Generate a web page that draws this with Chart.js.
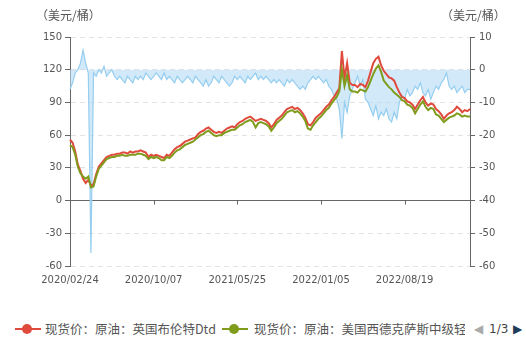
<!DOCTYPE html>
<html>
<head>
<meta charset="utf-8">
<script src="https://cdn.jsdelivr.net/npm/chart.js@4/dist/chart.umd.min.js"></script>
<style>
  body { margin: 0; background: #fff; }
  #wrap { position: relative; width: 526px; height: 341px; font-family: "Noto Sans CJK SC", "Noto Sans", sans-serif; color: #555; }
  .unit { position: absolute; top: 6px; font-size: 12px; line-height: 18px; }
  .legend { position: absolute; top: 320px; left: 0; width: 526px; height: 18px; font-size: 12.5px; line-height: 18px; }
  .legend svg, .legend span { position: absolute; top: 0; }
  .pager { font-family: "DejaVu Sans", sans-serif; }
</style>
</head>
<body>
<div id="wrap">
  <canvas id="oilChart" width="526" height="300"></canvas>
  <div class="unit" style="left:36px">（美元/桶）</div>
  <div class="unit" style="left:441px">（美元/桶）</div>
  <div class="legend">
    <svg style="left:14px" width="28" height="18"><line x1="1" y1="9" x2="27" y2="9" stroke="#e04a3c" stroke-width="2"/><circle cx="13" cy="9" r="5" fill="#e04a3c"/></svg>
    <span style="left:45px;white-space:nowrap">现货价：原油：英国布伦特Dtd</span>
    <svg style="left:221px" width="28" height="18"><line x1="1" y1="9" x2="27" y2="9" stroke="#7f9c1c" stroke-width="2"/><circle cx="13" cy="9" r="5" fill="#7f9c1c"/></svg>
    <span style="left:254px;width:211px;overflow:hidden;white-space:nowrap">现货价：原油：美国西德克萨斯中级轻质原油</span>
    <span class="pager" style="left:474px;color:#aaa;font-size:12px">◀</span>
    <span class="pager" style="left:489px;color:#444;font-size:12px">1/3</span>
    <span class="pager" style="left:513px;color:#1f3b5a;font-size:12px">▶</span>
  </div>
</div>
<script>
// axis tick labels, one every 32 samples
const tickLabels = ['2020/02/24', '2020/10/07', '2021/05/25', '2022/01/05', '2022/08/19'];
const tickStep = 32;

// 现货价：原油：英国布伦特Dtd (美元/桶)
const brent = [
  56, 53, 45, 33, 27, 20, 16, 19, 14, 15,
  24, 31, 34, 37, 40, 41, 42, 42, 43, 43,
  44, 44, 43, 45, 44, 45, 45, 46, 45, 44,
  40, 42, 41, 42, 41, 40, 39, 42, 41, 44,
  47, 49, 50, 52, 54, 55, 56, 57, 58, 61,
  63, 64, 66, 67, 65, 63, 62, 63, 62, 64,
  66, 67, 68, 67, 70, 72, 73, 75, 76, 77,
  75, 73, 74, 75, 74, 73, 71, 67, 70, 74,
  76, 78, 81, 84, 85, 86, 84, 85, 83, 80,
  76, 70, 69, 72, 76, 78, 80, 83, 86, 88,
  92, 95, 99, 103, 137, 112, 126, 108, 106, 106,
  104, 107, 106, 104, 110, 118, 126, 130, 132, 124,
  119, 116, 113, 112, 110, 104, 99, 95, 94, 91,
  90, 88, 84, 88, 92, 95, 90, 87, 89, 88,
  84, 82, 79, 75, 78, 80, 81, 83, 86, 84,
  81, 83, 82, 84
];

// 现货价：原油：美国西德克萨斯中级轻质原油 (美元/桶)
const wti = [
  51, 49, 42, 31, 25, 22, 20, 22, 12, 13,
  22, 29, 32, 35, 38, 39, 40, 40, 41, 41,
  42, 41, 41, 42, 42, 42, 43, 43, 42, 41,
  38, 40, 39, 40, 39, 37, 37, 40, 39, 41,
  44, 46, 47, 49, 51, 52, 53, 54, 56, 58,
  60, 61, 63, 64, 62, 60, 59, 60, 60, 62,
  63, 64, 65, 65, 67, 69, 70, 72, 73, 74,
  72, 67, 71, 72, 71, 70, 68, 64, 67, 71,
  73, 75, 78, 81, 82, 83, 81, 82, 80, 77,
  73, 66, 65, 69, 72, 75, 77, 80, 83, 85,
  89, 92, 95, 100, 120, 105, 115, 102, 100, 100,
  99, 102, 101, 100, 104, 110, 116, 121, 124, 118,
  110, 107, 104, 102, 99, 97, 95, 92, 91, 88,
  87, 85, 80, 84, 88, 91, 86, 83, 85, 84,
  79, 78, 75, 72, 74, 76, 77, 78, 80, 79,
  77, 78, 77, 77
];

// 价差 (右轴, 美元/桶)
const spread = [
  -6, -4, -1, 0, 2, 6, 2, -1, -56, -1,
  -2, 0, -1, 1, -2, -1, 0, -2, -3, -2,
  -3, -4, -2, -3, -4, -2, -3, -2, -3, -1,
  -2, -3, -2, -1, -2, -3, -1, -3, -2, -3,
  -4, -2, -3, -4, -3, -2, -3, -4, -2, -3,
  -4, -5, -3, -5, -4, -2, -3, -4, -2, -3,
  -4, -5, -4, -2, -3, -2, -3, -4, -2, -3,
  -2, -1, -3, -2, -3, -2, -3, -4, -3, -4,
  -3, -4, -5, -3, -4, -3, -4, -5, -6, -5,
  -6, -4, -3, -2, -3, -2, -3, -4, -3, -5,
  -6, -8, -9, -12, -21, -10, -13, -8, -6, -4,
  -2, -5, -3, -9, -10, -12, -14, -11, -15, -13,
  -14, -12, -15, -16, -13, -15, -10, -8, -9, -6,
  -8, -7, -5, -6, -4, -7, -8, -6, -9, -7,
  -5, -6, -4, -3, -1, -5, -6, -5, -7, -6,
  -5, -7, -6, -6
];

const labels = brent.map((_, i) => i % tickStep === 0 ? tickLabels[i / tickStep] : '');

const axisColor = '#666';
const gridColor = '#e2e2e2';
const tickFont = { family: 'DejaVu Sans', size: 10 };

// short downward marks on the zero line under each date label
const zeroTicks = {
  id: 'zeroTicks',
  afterDatasetsDraw(chart) {
    const { ctx, scales: { x, y } } = chart;
    const y0 = y.getPixelForValue(0);
    ctx.save();
    ctx.strokeStyle = axisColor;
    ctx.lineWidth = 1;
    labels.forEach((l, i) => {
      if (!l || i === 0) return;
      const px = Math.round(x.getPixelForValue(i)) + 0.5;
      ctx.beginPath();
      ctx.moveTo(px, y0);
      ctx.lineTo(px, y0 + 4);
      ctx.stroke();
    });
    ctx.restore();
  }
};

new Chart(document.getElementById('oilChart'), {
  type: 'line',
  data: {
    labels: labels,
    datasets: [{
      label: '现货价：原油：英国布伦特Dtd',
      data: brent,
      yAxisID: 'y',
      borderColor: '#e04a3c',
      borderWidth: 2,
      pointRadius: 0,
      tension: 0,
      order: 2
    }, {
      label: '现货价：原油：美国西德克萨斯中级轻质原油',
      data: wti,
      yAxisID: 'y',
      borderColor: '#7f9c1c',
      borderWidth: 2,
      pointRadius: 0,
      tension: 0,
      order: 1
    }, {
      label: '价差',
      data: spread,
      yAxisID: 'y1',
      borderColor: '#96cef0',
      backgroundColor: 'rgba(178,218,243,0.6)',
      borderWidth: 1.2,
      pointRadius: 0,
      tension: 0,
      fill: 'origin',
      order: 3
    }]
  },
  options: {
    responsive: false,
    animation: false,
    layout: { padding: { top: 37, left: 0, right: 0, bottom: 0 } },
    plugins: {
      legend: { display: false },
      tooltip: { enabled: false }
    },
    scales: {
      x: {
        grid: { display: false, drawTicks: false },
        border: { display: false },
        ticks: {
          autoSkip: false,
          maxRotation: 0,
          padding: 8,
          color: '#555',
          font: tickFont
        },
        afterFit(s) { s.height = 34; }
      },
      y: {
        position: 'left',
        min: -60,
        max: 150,
        ticks: { stepSize: 30, padding: 3, color: '#555', font: tickFont },
        grid: {
          color: c => c.tick && c.tick.value === 0 ? axisColor : gridColor,
          tickColor: axisColor,
          tickLength: 5,
          tickBorderDash: []
        },
        border: {
          color: axisColor,
          dash: c => c.tick && c.tick.value === 0 ? [] : [5, 4]
        },
        afterFit(s) { s.width = 70; }
      },
      y1: {
        position: 'right',
        min: -60,
        max: 10,
        ticks: { stepSize: 10, padding: 4, color: '#555', font: tickFont },
        grid: {
          drawOnChartArea: false,
          tickColor: axisColor,
          tickLength: 5
        },
        border: { color: axisColor },
        afterFit(s) { s.width = 56; }
      }
    }
  },
  plugins: [zeroTicks]
});
</script>
</body>
</html>
